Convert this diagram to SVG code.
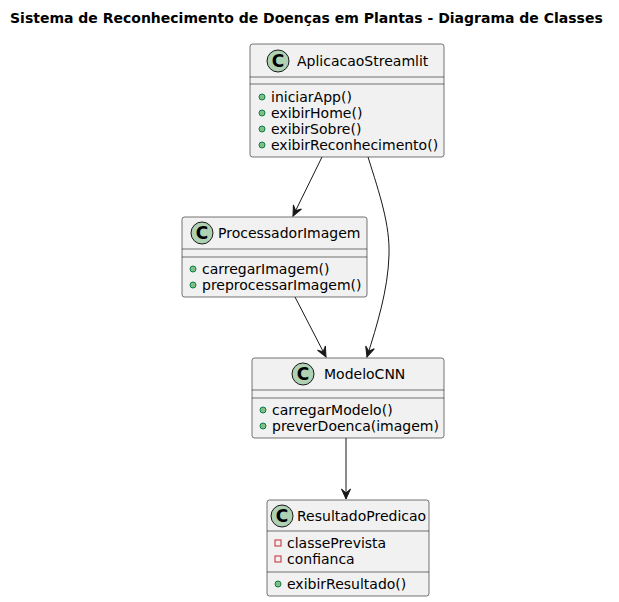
<svg xmlns="http://www.w3.org/2000/svg" width="619" height="602" viewBox="0 0 619 602">
<defs>
<style>
.box{fill:#F1F1F1;stroke:#181818;stroke-width:0.6}
.sep{stroke:#181818;stroke-width:0.6}
.circ{fill:#ADD1B2;stroke:#181818;stroke-width:1}
.cl{font-family:"DejaVu Sans",sans-serif;font-size:17px;font-weight:bold;fill:#000}
.name{font-family:"DejaVu Sans",sans-serif;font-size:14px;fill:#000}
.mem{font-family:"DejaVu Sans",sans-serif;font-size:14px;fill:#000}
.pub{fill:#84BE84;stroke:#038048;stroke-width:1}
.priv{fill:none;stroke:#C82930;stroke-width:1}
.edge{fill:none;stroke:#181818;stroke-width:1}
.title{font-family:"DejaVu Sans",sans-serif;font-size:14px;font-weight:bold;fill:#000}
</style>
<marker id="ah" markerUnits="userSpaceOnUse" markerWidth="12" markerHeight="12" viewBox="-11 -6 12 12" refX="0" refY="0" orient="auto">
<path d="M0,0 L-10,-4.5 L-6,0 L-10,4.5 Z" fill="#181818" stroke="#181818" stroke-width="1"/>
</marker>
</defs>
<rect width="619" height="602" fill="#FFFFFF"/>
<text class="title" x="10" y="23">Sistema de Reconhecimento de Doenças em Plantas - Diagrama de Classes</text>

<g id="connectors">
<path class="edge" d="M322,157 L293,216" marker-end="url(#ah)"/>
<path class="edge" d="M368,157 C380,195 390,225 389,255 C388,290 377,325 367,357" marker-end="url(#ah)"/>
<path class="edge" d="M295,297 L326,357" marker-end="url(#ah)"/>
<path class="edge" d="M346,438 L346,499" marker-end="url(#ah)"/>
</g>

<g id="AplicacaoStreamlit">
<rect class="box" x="250" y="44" width="194" height="113" rx="2.5"/>
<circle class="circ" cx="278" cy="61" r="11"/>
<text class="cl" x="278" y="67" text-anchor="middle">C</text>
<text class="name" x="297" y="66">AplicacaoStreamlit</text>
<line class="sep" x1="250" y1="77" x2="444" y2="77"/>
<line class="sep" x1="250" y1="84" x2="444" y2="84"/>
<circle class="pub" cx="262" cy="97" r="3"/>
<text class="mem" x="271" y="102">iniciarApp()</text>
<circle class="pub" cx="262" cy="113" r="3"/>
<text class="mem" x="271" y="118">exibirHome()</text>
<circle class="pub" cx="262" cy="129" r="3"/>
<text class="mem" x="271" y="134">exibirSobre()</text>
<circle class="pub" cx="262" cy="145" r="3"/>
<text class="mem" x="271" y="150">exibirReconhecimento()</text>
</g>

<g id="ProcessadorImagem">
<rect class="box" x="182" y="217" width="185" height="80" rx="2.5"/>
<circle class="circ" cx="202" cy="233" r="11"/>
<text class="cl" x="202" y="239" text-anchor="middle">C</text>
<text class="name" x="218" y="238">ProcessadorImagem</text>
<line class="sep" x1="182" y1="249" x2="367" y2="249"/>
<line class="sep" x1="182" y1="257" x2="367" y2="257"/>
<circle class="pub" cx="193" cy="269" r="3"/>
<text class="mem" x="202" y="274">carregarImagem()</text>
<circle class="pub" cx="193" cy="285" r="3"/>
<text class="mem" x="202" y="290">preprocessarImagem()</text>
</g>

<g id="ModeloCNN">
<rect class="box" x="252" y="358" width="192" height="80" rx="2.5"/>
<circle class="circ" cx="303" cy="374" r="11"/>
<text class="cl" x="303" y="380" text-anchor="middle">C</text>
<text class="name" x="324" y="379">ModeloCNN</text>
<line class="sep" x1="252" y1="390" x2="444" y2="390"/>
<line class="sep" x1="252" y1="398" x2="444" y2="398"/>
<circle class="pub" cx="263" cy="410" r="3"/>
<text class="mem" x="272" y="415">carregarModelo()</text>
<circle class="pub" cx="263" cy="426" r="3"/>
<text class="mem" x="272" y="431">preverDoenca(imagem)</text>
</g>

<g id="ResultadoPredicao">
<rect class="box" x="267" y="500" width="162" height="96" rx="2.5"/>
<circle class="circ" cx="282" cy="516" r="11"/>
<text class="cl" x="282" y="522" text-anchor="middle">C</text>
<text class="name" x="297" y="521">ResultadoPredicao</text>
<line class="sep" x1="267" y1="531" x2="429" y2="531"/>
<rect class="priv" x="275" y="540" width="6" height="6"/>
<text class="mem" x="287" y="548">classePrevista</text>
<rect class="priv" x="275" y="556" width="6" height="6"/>
<text class="mem" x="287" y="564">confianca</text>
<line class="sep" x1="267" y1="572" x2="429" y2="572"/>
<circle class="pub" cx="278" cy="584" r="3"/>
<text class="mem" x="287" y="589">exibirResultado()</text>
</g>
</svg>
